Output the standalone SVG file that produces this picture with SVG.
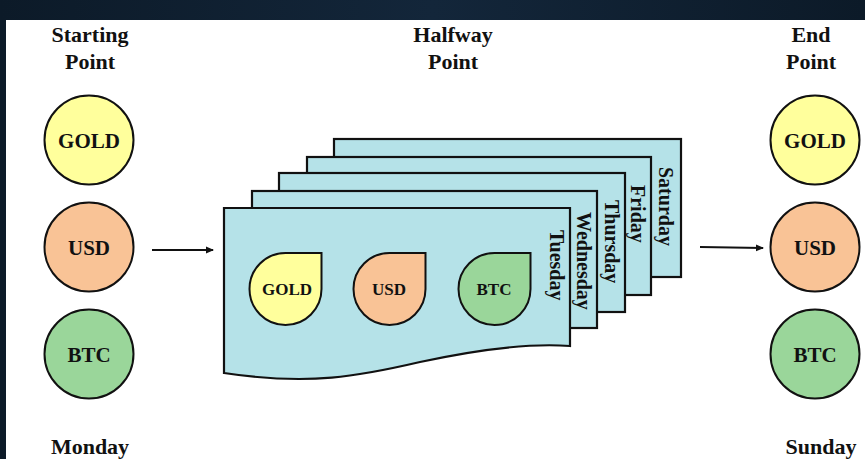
<svg xmlns="http://www.w3.org/2000/svg" width="865" height="459" viewBox="0 0 865 459">
  <style>
    text { font-family: "Liberation Serif", "Times New Roman", serif; font-weight: bold; fill: #111; }
    .hdr { font-size: 22px; text-anchor: middle; }
    .ct { font-size: 21px; text-anchor: middle; }
    .dt { font-size: 17px; text-anchor: middle; }
    .day { font-size: 20px; }
    .ln { stroke: #111; stroke-width: 2; }
    .sheet { fill: #b5e2e8; stroke: #111; stroke-width: 2.2; }
    .gold { fill: #ffff9c; }
    .usd { fill: #f9c396; }
    .btc { fill: #9ad69a; }
  </style>
  <defs>
    <marker id="ah" markerWidth="8" markerHeight="8" refX="7" refY="4" orient="auto" markerUnits="userSpaceOnUse">
      <path d="M0,0.5 L8,4 L0,7.5 Z" fill="#111"/>
    </marker>
    <linearGradient id="bg" x1="0" y1="0" x2="1" y2="0">
      <stop offset="0" stop-color="#0c1a28"/>
      <stop offset="0.5" stop-color="#13263a"/>
      <stop offset="1" stop-color="#0c1a28"/>
    </linearGradient>
  </defs>

  <rect x="0" y="0" width="865" height="459" fill="url(#bg)"/>
  <rect x="6" y="20" width="859" height="439" fill="#ffffff"/>

  <g id="headers">
    <text class="hdr" x="90" y="42">Starting</text>
    <text class="hdr" x="90" y="69">Point</text>
    <text class="hdr" x="453" y="42">Halfway</text>
    <text class="hdr" x="453" y="69">Point</text>
    <text class="hdr" x="811" y="42">End</text>
    <text class="hdr" x="811" y="69">Point</text>
    <text class="hdr" x="90" y="454">Monday</text>
    <text class="hdr" x="821" y="454">Sunday</text>
  </g>

  <g id="start-gold"><circle class="ln gold" cx="89" cy="140" r="44.5"/><text class="ct" x="89" y="148">GOLD</text></g>
  <g id="start-usd"><circle class="ln usd" cx="89" cy="247" r="44.5"/><text class="ct" x="89" y="255">USD</text></g>
  <g id="start-btc"><circle class="ln btc" cx="89" cy="354" r="44.5"/><text class="ct" x="89" y="362">BTC</text></g>

  <g id="end-gold"><circle class="ln gold" cx="815" cy="140" r="44.5"/><text class="ct" x="815" y="148">GOLD</text></g>
  <g id="end-usd"><circle class="ln usd" cx="815" cy="247" r="44.5"/><text class="ct" x="815" y="255">USD</text></g>
  <g id="end-btc"><circle class="ln btc" cx="815" cy="354" r="44.5"/><text class="ct" x="815" y="362">BTC</text></g>

  <g id="saturday">
    <rect class="sheet" x="334" y="139" width="347" height="138"/>
    <text class="day" transform="translate(659,167) rotate(90)">Saturday</text>
  </g>
  <g id="friday">
    <rect class="sheet" x="307" y="157" width="344" height="138"/>
    <text class="day" transform="translate(631,185) rotate(90)">Friday</text>
  </g>
  <g id="thursday">
    <rect class="sheet" x="279" y="173" width="346" height="139"/>
    <text class="day" transform="translate(605,200) rotate(90)">Thursday</text>
  </g>
  <g id="wednesday">
    <rect class="sheet" x="252" y="191" width="345" height="137"/>
    <text class="day" transform="translate(577,212) rotate(90)">Wednesday</text>
  </g>
  <g id="tuesday">
    <path class="sheet" d="M224,208 H570 V346 C530,343 480,349 420,362 C360,376 310,386 224,373 Z"/>
    <text class="day" transform="translate(550,230) rotate(90)">Tuesday</text>
  </g>

  <g id="drop-gold">
    <path class="ln gold" d="M285.5,253 H321.5 V289 A36,36 0 1 1 285.5,253 Z"/>
    <text class="dt" x="287" y="295">GOLD</text>
  </g>
  <g id="drop-usd">
    <path class="ln usd" d="M389.5,253 H425.5 V289 A36,36 0 1 1 389.5,253 Z"/>
    <text class="dt" x="389" y="295">USD</text>
  </g>
  <g id="drop-btc">
    <path class="ln btc" d="M494.5,253 H530.5 V289 A36,36 0 1 1 494.5,253 Z"/>
    <text class="dt" x="494" y="295">BTC</text>
  </g>

  <g id="connectors">
    <line class="ln" x1="152" y1="250" x2="213" y2="250" marker-end="url(#ah)"/>
    <line class="ln" x1="700" y1="247" x2="763" y2="248" marker-end="url(#ah)"/>
  </g>
</svg>
